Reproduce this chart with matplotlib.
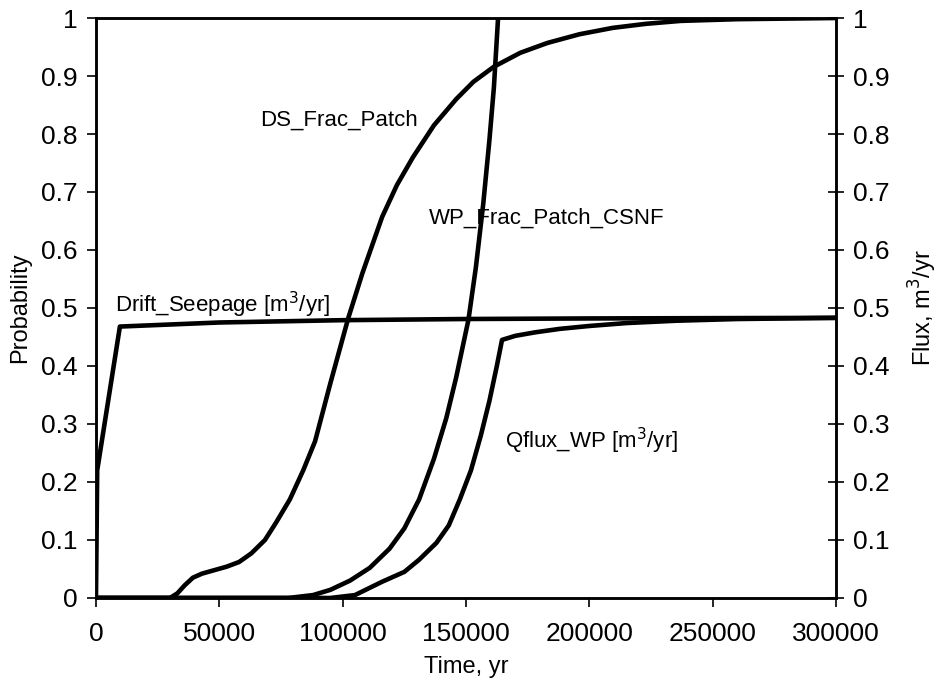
import matplotlib
matplotlib.use("Agg")
import matplotlib.pyplot as plt
from matplotlib.ticker import FormatStrFormatter, FuncFormatter

plt.rcParams['font.family'] = ['Liberation Sans', 'DejaVu Sans']

# time (yr) / probability pairs for the patch curves
ds_t = [0, 30000, 33000, 36000, 39300, 43000, 48000, 53000, 58000, 63000, 68500, 73000,
        78600, 84000, 88800, 95000, 102300, 108000, 116000, 122000, 128500, 137000,
        146000, 153000, 161300, 172000, 183000, 196000, 209500, 223000, 237000, 260000, 300000]
ds_p = [0, 0, 0.008, 0.022, 0.035, 0.042, 0.048, 0.054, 0.062, 0.077, 0.10, 0.13,
        0.17, 0.22, 0.27, 0.37, 0.483, 0.56, 0.657, 0.712, 0.76, 0.815,
        0.86, 0.89, 0.916, 0.94, 0.957, 0.972, 0.983, 0.99, 0.995, 0.998, 1.0]

wp_t = [0, 78000, 88000, 95000, 103000, 111000, 119000, 125000, 131000, 137000, 142000,
        146000, 149000, 151000, 154000, 157000, 159500, 161300, 163000]
wp_p = [0, 0, 0.005, 0.014, 0.03, 0.052, 0.085, 0.12, 0.17, 0.24, 0.31,
        0.38, 0.44, 0.48, 0.57, 0.68, 0.79, 0.88, 1.0]

# flux curves (m3/yr), right axis
seep_t = [0, 500, 9700, 50000, 100000, 150000, 200000, 300000]
seep_q = [0, 0.22, 0.468, 0.475, 0.479, 0.481, 0.482, 0.483]

qf_t = [0, 95000, 105000, 116000, 125000, 131000, 138000, 143000, 147500, 152000, 156000,
        159500, 162500, 164600, 170000, 178000, 188000, 200000, 215000, 235000, 260000, 300000]
qf_q = [0, 0, 0.005, 0.028, 0.045, 0.066, 0.095, 0.125, 0.17, 0.22, 0.28,
        0.34, 0.40, 0.445, 0.452, 0.458, 0.464, 0.469, 0.474, 0.478, 0.481, 0.483]

fig = plt.figure(figsize=(9.4, 6.98), dpi=100)
ax = fig.add_axes([0.1021, 0.1433, 0.7873, 0.8309])
ax2 = ax.twinx()

lw = 3.3
ax.plot(ds_t, ds_p, color='black', lw=lw, solid_capstyle='butt', solid_joinstyle='round')
ax.plot(wp_t, wp_p, color='black', lw=lw, solid_capstyle='butt', solid_joinstyle='round')
ax2.plot(seep_t, seep_q, color='black', lw=lw, solid_capstyle='butt', solid_joinstyle='round')
ax2.plot(qf_t, qf_q, color='black', lw=lw, solid_capstyle='butt', solid_joinstyle='round')

for a in (ax, ax2):
    a.set_xlim(0, 300000)
    a.set_ylim(0, 1)
    a.set_yticks([i / 10 for i in range(11)])
    a.yaxis.set_major_formatter(FuncFormatter(lambda v, p: '%g' % round(v, 1)))
    for s in a.spines.values():
        s.set_linewidth(1.8)

ax.set_xticks(range(0, 300001, 50000))
ax.xaxis.set_major_formatter(FormatStrFormatter('%d'))
ax.tick_params(axis='both', labelsize=19, direction='out', length=6.5, width=1.2)
ax.tick_params(axis='x', pad=11)
ax.tick_params(axis='y', pad=7)
ax2.tick_params(axis='y', labelsize=19, direction='inout', length=12, width=1.2, pad=6)

ax.set_xlabel('Time, yr', fontsize=17)
ax.set_ylabel('Probability', fontsize=17)
ax2.set_ylabel('Flux, m$^3$/yr', fontsize=17)
ax.xaxis.set_label_coords(0.5, -0.10)
ax.yaxis.set_label_coords(-0.088, 0.5)
ax2.yaxis.set_label_coords(1.096, 0.5)

fs = 16
ax.text(66500, 0.814, 'DS_Frac_Patch', fontsize=fs, va='baseline')
ax.text(135000, 0.645, 'WP_Frac_Patch_CSNF', fontsize=fs, va='baseline')
ax.text(7700, 0.492, 'Drift_Seepage [m$^3$/yr]', fontsize=fs, va='baseline')
ax.text(165800, 0.259, 'Qflux_WP [m$^3$/yr]', fontsize=fs, va='baseline')

fig.savefig('out.png', dpi=100)
